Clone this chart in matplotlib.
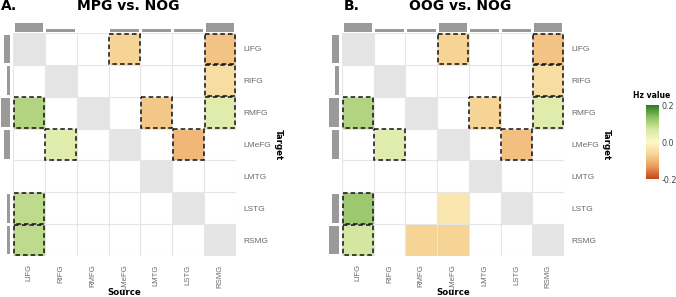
import numpy as np
import matplotlib.pyplot as plt
from matplotlib.colors import LinearSegmentedColormap
from matplotlib.patches import Rectangle

regions = ["LIFG", "RIFG", "RMFG", "LMeFG", "LMTG", "LSTG", "RSMG"]

# rows = target, columns = source, 0 = no connection
a_vals = [
    [0, 0, 0, -0.065, 0, 0, -0.085],
    [0, 0, 0, 0, 0, 0, -0.05],
    [0.10, 0, 0, 0, -0.08, 0, 0.05],
    [0, 0.05, 0, 0, 0, -0.10, 0],
    [0, 0, 0, 0, 0, 0, 0],
    [0.09, 0, 0, 0, 0, 0, 0],
    [0.09, 0, 0, 0, 0, 0, 0],
]
b_vals = [
    [0, 0, 0, -0.065, 0, 0, -0.085],
    [0, 0, 0, 0, 0, 0, -0.05],
    [0.10, 0, 0, 0, -0.065, 0, 0.05],
    [0, 0.05, 0, 0, 0, -0.09, 0],
    [0, 0, 0, 0, 0, 0, 0],
    [0.12, 0, 0, -0.03, 0, 0, 0],
    [0.07, 0, -0.065, -0.065, 0, 0, 0],
]
# significant cells (dashed border)
a_sig = [(0, 3), (0, 6), (1, 6), (2, 0), (2, 4), (2, 6), (3, 1), (3, 5), (5, 0), (6, 0)]
b_sig = [(0, 3), (0, 6), (1, 6), (2, 0), (2, 4), (2, 6), (3, 1), (3, 5), (5, 0), (6, 0)]

titles = ["MPG vs. NOG", "OOG vs. NOG"]
letters = ["A.", "B."]

cmap = LinearSegmentedColormap.from_list(
    "hz", ["#c4441a", "#eb9a5a", "#f6d495", "#fdf8c6", "#d8e9a4", "#8fc063", "#2a7a20"])
vmin, vmax = -0.2, 0.2

fig = plt.figure(figsize=(6.76, 2.97), dpi=100)
W, H = 676.0, 297.0

def fx(px):
    return px / W

def fy(py):
    return 1 - py / H

panels = [(a_vals, a_sig, 13, 236, 0, 9.5), (b_vals, b_sig, 342, 564, 328, 338.5)]
n = len(regions)
grey = "#9a9a9a"
lab_col = "#6a6a6a"
lab_font = "Liberation Sans"

for i, (vals, sig, x0, x1, lb0, lb1) in enumerate(panels):
    m = np.array(vals, dtype=float)
    gy0, gy1 = 33, 256
    ax = fig.add_axes([fx(x0), fy(gy1), fx(x1 - x0), (gy1 - gy0) / H])
    diag = np.full((n, n), np.nan)
    np.fill_diagonal(diag, 1)
    ax.imshow(diag, cmap=LinearSegmentedColormap.from_list("g", ["#e4e4e4", "#e4e4e4"]),
              aspect="auto", interpolation="nearest")
    masked = np.where(m == 0, np.nan, m)
    im = ax.imshow(masked, cmap=cmap, vmin=vmin, vmax=vmax, aspect="auto",
                   interpolation="nearest")
    ax.set_xticks(np.arange(-0.5, n), minor=True)
    ax.set_yticks(np.arange(-0.5, n), minor=True)
    ax.grid(which="minor", color="#e6e6e6", lw=0.8)
    ax.tick_params(which="minor", length=0)
    for s in ax.spines.values():
        s.set_visible(False)
    for (r, c) in sig:
        ax.add_patch(Rectangle((c - 0.48, r - 0.48), 0.96, 0.96, fill=False,
                               ec="#111111", lw=1.1, ls=(0, (3, 2)), zorder=3))
    ax.set_xticks(range(n))
    ax.set_xticklabels(regions, rotation=90, fontsize=5.6, color=lab_col, family=lab_font)
    ax.set_yticks(range(n))
    ax.set_yticklabels(regions, fontsize=6, color=lab_col, family=lab_font)
    ax.yaxis.tick_right()
    ax.tick_params(axis="x", which="major", length=0, pad=6)
    ax.tick_params(axis="y", which="major", length=0, pad=5)

    # marginal bars: number of connections per source / target
    nz = (m != 0)
    col_counts = nz.sum(axis=0)
    row_counts = nz.sum(axis=1)
    axt = fig.add_axes([fx(x0), fy(32), fx(x1 - x0), 10 / H])
    axt.bar(range(n), col_counts, width=0.9, color=grey)
    axt.set_xlim(-0.5, n - 0.5)
    axt.set_ylim(0, 3.3)
    axt.axis("off")
    axl = fig.add_axes([fx(lb0), fy(gy1), fx(lb1 - lb0), (gy1 - gy0) / H])
    axl.barh(range(n), row_counts, height=0.9, color=grey)
    axl.set_ylim(n - 0.5, -0.5)
    axl.set_xlim(3.3, 0)
    axl.axis("off")

    cx = (x0 + x1) / 2
    fig.text(fx(cx), fy(297), "Source", ha="center", va="bottom", fontsize=6.2,
             fontweight="bold")
    fig.text(fx(x1 + 42), fy((gy0 + gy1) / 2), "Target", ha="center", va="center",
             rotation=-90, fontsize=6.2, fontweight="bold")
    fig.text(fx(x0 - 13 + 1 if i == 0 else x0 + 2), fy(6.5), letters[i], ha="left",
             va="center", fontsize=10, fontweight="bold")
    fig.text(fx(128 if i == 0 else 460), fy(6.5), titles[i], ha="center", va="center",
             fontsize=10, fontweight="bold")

cax = fig.add_axes([fx(646), fy(179), fx(13), 74 / H])
cb = fig.colorbar(im, cax=cax, ticks=[-0.2, 0.0, 0.2])
cb.outline.set_visible(False)
cb.ax.set_yticklabels(["-0.2", "0.0", "0.2"])
cb.ax.tick_params(labelsize=5.8, length=0, pad=2, colors="#444444")
fig.text(fx(652), fy(95), "Hz value", ha="center", va="center", fontsize=5.5,
         fontweight="bold")

fig.savefig("out.png", dpi=100)
